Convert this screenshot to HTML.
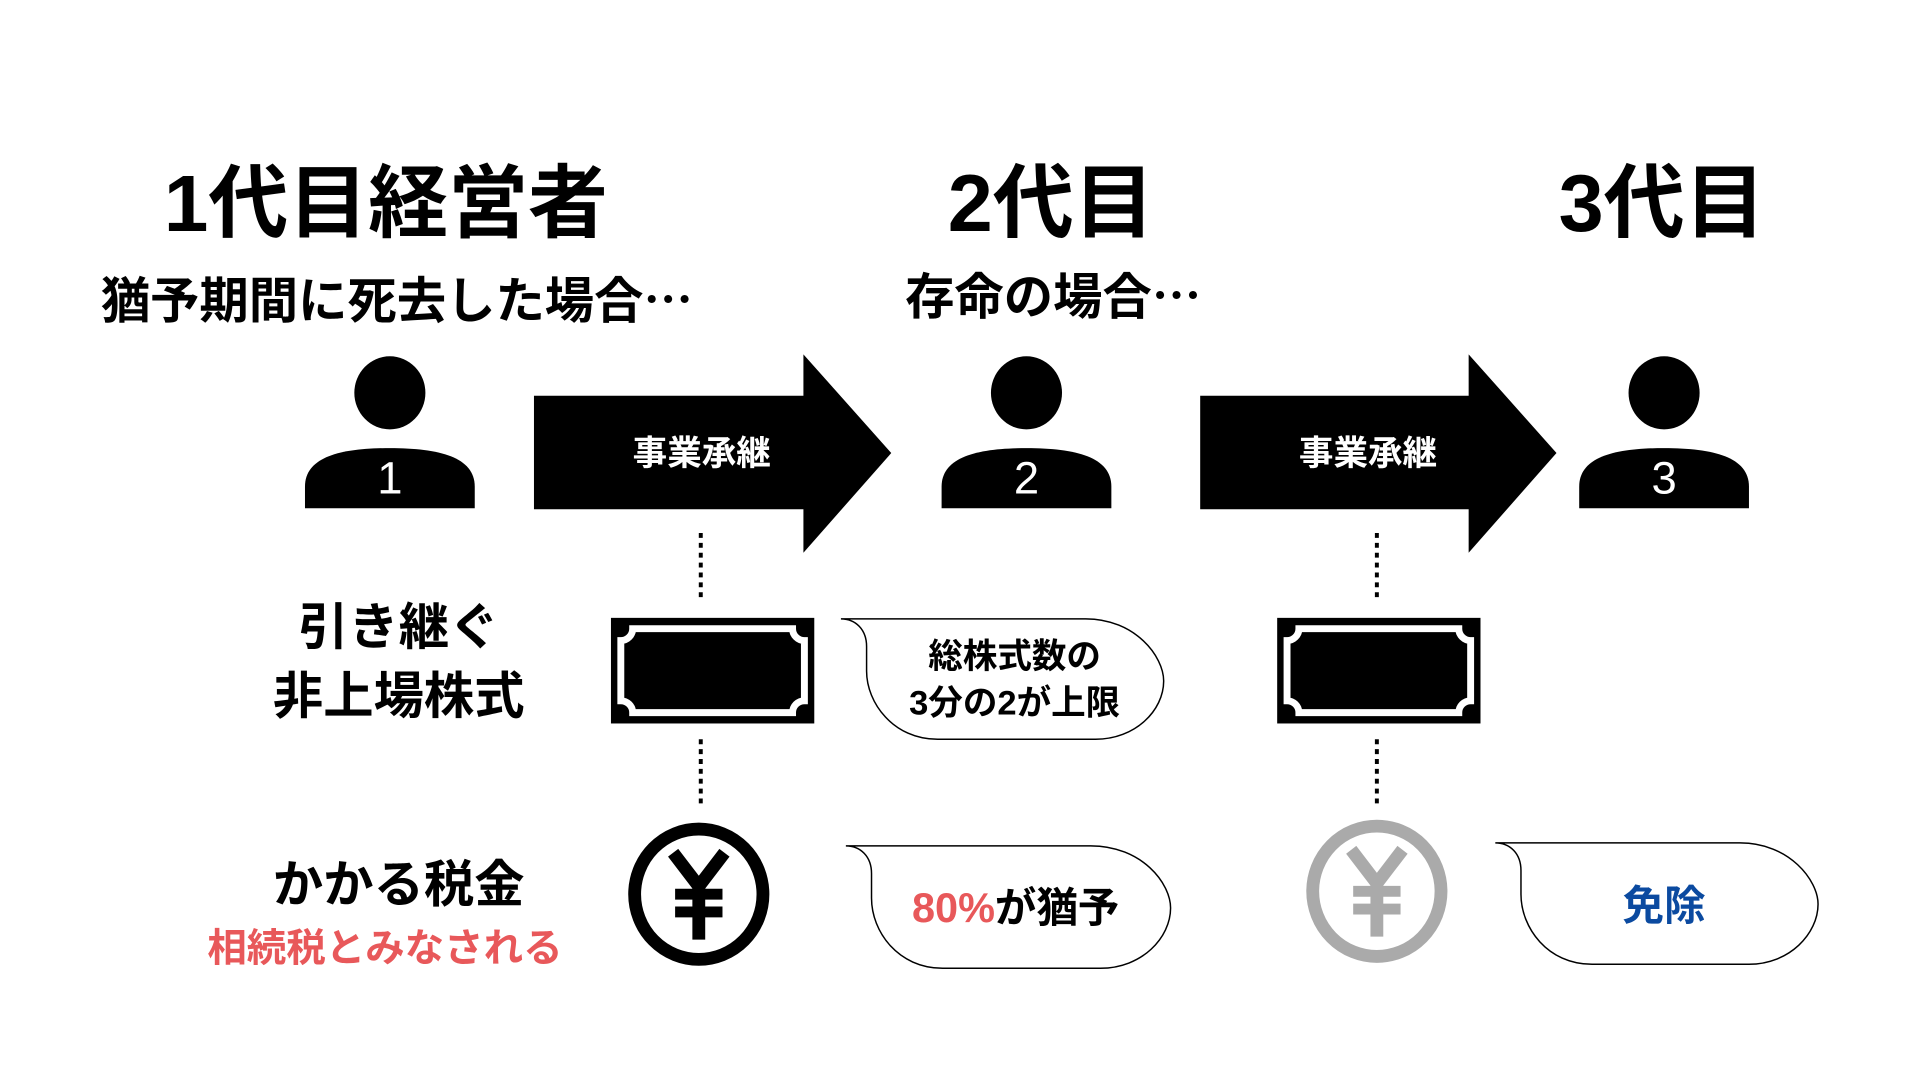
<!DOCTYPE html>
<html><head><meta charset="utf-8"><style>
html,body{margin:0;padding:0;background:#fff;}
svg{display:block;}
text{font-family:"Liberation Sans","Noto Sans CJK JP",sans-serif;font-weight:bold;}
.cjk{font-family:"Noto Sans CJK JP",sans-serif;}
</style></head><body>
<svg width="1920" height="1080" viewBox="0 0 1920 1080" xmlns="http://www.w3.org/2000/svg">
<defs>
<g id="person">
<ellipse cx="0" cy="0" rx="36" ry="37" fill="#000"/>
<path d="M-86,117 L-86,95 C-86,65 -50,56 0,56 C50,56 86,65 86,95 L86,117 Z" fill="#000"/>
</g>
<g id="cert">
<rect x="0" y="0" width="206" height="107" fill="#000"/>
<path d="M22,11 L184,11 A12,12 0 0 0 196,23 L196,84 A12,12 0 0 0 184,96 L22,96 A12,12 0 0 0 10,84 L10,23 A12,12 0 0 0 22,11 Z" fill="none" stroke="#fff" stroke-width="7"/>
</g>
<g id="yen">
<path d="M-26,-42 L0,-8 L26,-42" fill="none" stroke-width="13" stroke-linecap="butt"/>
<line x1="0" y1="-10" x2="0" y2="46" stroke-width="13"/>
<line x1="-24" y1="0" x2="24" y2="0" stroke-width="11"/>
<line x1="-24" y1="18" x2="24" y2="18" stroke-width="11"/>
</g>
</defs>
<g transform="scale(0.987)">
<text x="391" y="234" font-size="81" text-anchor="middle">1代目経営者</text>
<text x="1065" y="234" font-size="82" text-anchor="middle">2代目</text>
<text x="1684" y="234" font-size="82" text-anchor="middle">3代目</text>
<text x="402" y="322" font-size="50" text-anchor="middle">猶予期間に死去した場合<tspan class="cjk">…</tspan></text>
<text x="1067" y="318" font-size="50" text-anchor="middle">存命の場合<tspan class="cjk">…</tspan></text>

<use href="#person" x="395" y="398"/>
<use href="#person" x="1040" y="398"/>
<use href="#person" x="1686" y="398"/>
<text x="395" y="500" font-size="46" fill="#fff" text-anchor="middle" style="font-weight:normal">1</text>
<text x="1040" y="500" font-size="46" fill="#fff" text-anchor="middle" style="font-weight:normal">2</text>
<text x="1686" y="500" font-size="46" fill="#fff" text-anchor="middle" style="font-weight:normal">3</text>

<path d="M541,401 L814,401 L814,359 L903,459 L814,560 L814,516 L541,516 Z" fill="#000"/>
<path d="M1216,401 L1488,401 L1488,359 L1577,459 L1488,560 L1488,516 L1216,516 Z" fill="#000"/>
<text x="711" y="471" font-size="35" fill="#fff" text-anchor="middle">事業承継</text>
<text x="1386" y="471" font-size="35" fill="#fff" text-anchor="middle">事業承継</text>

<g stroke="#000" stroke-width="4" stroke-dasharray="5,5">
<line x1="710" y1="540" x2="710" y2="609"/>
<line x1="710" y1="749" x2="710" y2="817"/>
<line x1="1395" y1="540" x2="1395" y2="609"/>
<line x1="1395" y1="749" x2="1395" y2="817"/>
</g>

<use href="#cert" x="619" y="626"/>
<use href="#cert" x="1294" y="626"/>

<ellipse cx="708" cy="906" rx="65" ry="66" fill="none" stroke="#000" stroke-width="13"/>
<use href="#yen" x="708" y="906" stroke="#000"/>
<ellipse cx="1395" cy="903" rx="65" ry="66" fill="none" stroke="#aaa" stroke-width="13"/>
<use href="#yen" x="1395" y="903" stroke="#aaa"/>

<g fill="#fff" stroke="#000" stroke-width="1.5">
<path d="M852,627 L1100,627 C1150,627 1179,665 1179,690 C1179,720 1150,749 1110,749 L950,749 C905,749 878,712 878,680 L878,655 C878,638 867,627 852,627 Z"/>
<path d="M857,857 L1105,857 C1157,857 1186,895 1186,920 C1186,950 1157,981 1115,981 L955,981 C910,981 883,944 883,910 L883,885 C883,868 872,857 857,857 Z"/>
<path d="M1515,854 L1763,854 C1813,854 1842,892 1842,916 C1842,946 1813,977 1772,977 L1613,977 C1568,977 1541,940 1541,906 L1541,882 C1541,865 1530,854 1515,854 Z"/>
</g>
<text x="1028" y="677" font-size="35" text-anchor="middle">総株式数の</text>
<text x="1028" y="724" font-size="35" text-anchor="middle">3分の2が上限</text>
<text x="1029" y="934" font-size="42" text-anchor="middle"><tspan fill="#e8585a">80%</tspan>が猶予</text>
<text x="1686" y="932" font-size="42" fill="#0b4aa0" text-anchor="middle">免除</text>

<text x="404" y="653" font-size="51" text-anchor="middle">引き継ぐ</text>
<text x="404" y="723" font-size="51" text-anchor="middle">非上場株式</text>
<text x="404" y="914" font-size="51" text-anchor="middle">かかる税金</text>
<text x="390" y="974" font-size="40" fill="#e8585a" text-anchor="middle">相続税とみなされる</text>
</g>
</svg>
</body></html>
